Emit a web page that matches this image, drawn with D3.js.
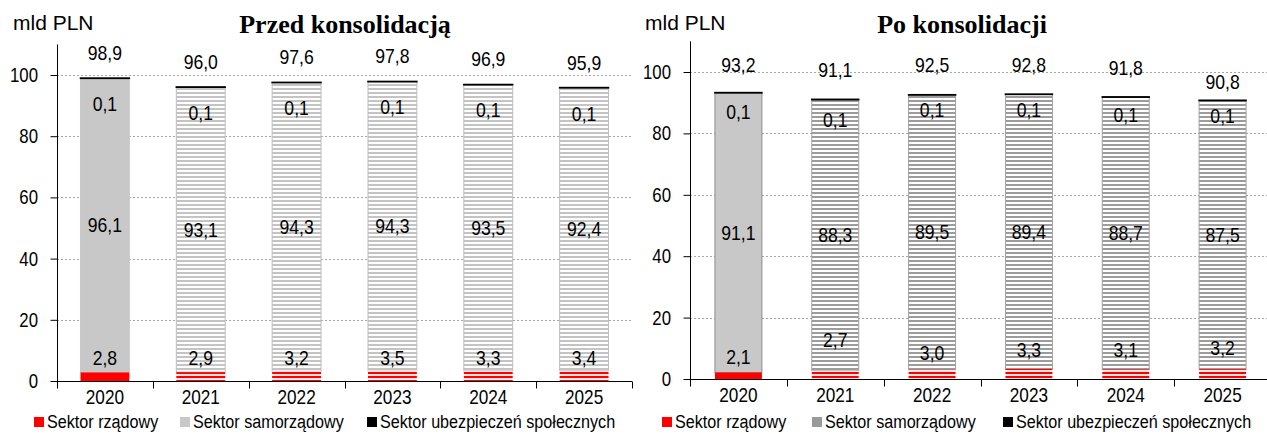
<!DOCTYPE html>
<html>
<head>
<meta charset="utf-8">
<script src="https://cdn.jsdelivr.net/npm/d3@7"></script>
<style>
  html, body { margin: 0; padding: 0; background: #fff; }
  svg { display: block; }
</style>
</head>
<body>
<svg id="chart" width="1267" height="434"></svg>
<script>
// ---- data (mld PLN) ----
const years = ["2020", "2021", "2022", "2023", "2024", "2025"];
const yTicks = [0, 20, 40, 60, 80, 100];

// before consolidation
const przedRzadowy      = [2.8, 2.9, 3.2, 3.5, 3.3, 3.4];
const przedSamorzadowy  = [96.1, 93.1, 94.3, 94.3, 93.5, 92.4];
const przedUbezpieczen  = [0.1, 0.1, 0.1, 0.1, 0.1, 0.1];
const przedRazem        = [98.9, 96.0, 97.6, 97.8, 96.9, 95.9];

// after consolidation
const poRzadowy         = [2.1, 2.7, 3.0, 3.3, 3.1, 3.2];
const poSamorzadowy     = [91.1, 88.3, 89.5, 89.4, 88.7, 87.5];
const poUbezpieczen     = [0.1, 0.1, 0.1, 0.1, 0.1, 0.1];
const poRazem           = [93.2, 91.1, 92.5, 92.8, 91.8, 90.8];

const legendNames = ["Sektor rządowy", "Sektor samorządowy", "Sektor ubezpieczeń społecznych"];

const fmt = v => d3.format(".1f")(v).replace(".", ",");

const SANS = "'Liberation Sans', Arial, sans-serif";
const SERIF = "'Liberation Serif', 'Times New Roman', serif";

const svg = d3.select("#chart");

// ---- fill patterns ----
const defs = svg.append("defs");
function stripes(id, line, gap) {
  const p = defs.append("pattern").attr("id", id)
    .attr("patternUnits", "userSpaceOnUse").attr("width", 8).attr("height", 4);
  p.append("rect").attr("width", 8).attr("height", 4).attr("fill", gap);
  p.append("rect").attr("width", 8).attr("height", 2).attr("fill", line);
}
stripes("stripeLight", "#c4c4c4", "#ffffff");
stripes("stripeDark", "#9c9c9c", "#ffffff");
stripes("stripeRed", "#ff0000", "#ffe6e6");

// narrow-looking sans text, drawn with a horizontal squeeze
function label(g, x, y, str, o = {}) {
  return g.append("g")
    .attr("transform", `translate(${x},${y}) scale(${o.sx ?? 0.88},1)`)
    .append("text")
    .attr("text-anchor", o.anchor || "middle")
    .attr("dy", o.dy ?? "0.35em")
    .attr("font-family", o.family || SANS)
    .attr("font-size", o.size || 20)
    .attr("font-weight", o.weight || "normal")
    .attr("fill", "#000")
    .text(str);
}

// ---- panel layout ----
const panels = [
  {
    title: "Przed konsolidacją", titleX: 345,
    x0: 57, x1: 632, yBase: 381, yTop100: 75, barFrac: 0.51,
    rz: przedRzadowy, sam: przedSamorzadowy, ub: przedUbezpieczen, total: przedRazem,
    stripe: "url(#stripeLight)", stripeEdge: "#bdbdbd", solidSam: "#c8c8c8", solidEdge: "#c8c8c8", legendSam: "#c8c8c8",
    totalOff: 25, totalNudge: [0, 0, 0, 0, 0, 0],
    topOff: 26, topNudge: [0, 0, 0, 0, 0, 0],
    botOff: 23, botNudge: [0, 0, 0, 0, 0, 0],
    unitX: 13, legendX: [34, 180, 367]
  },
  {
    title: "Po konsolidacji", titleX: 962,
    x0: 690, x1: 1271, yBase: 379, yTop100: 72, barFrac: 0.485,
    rz: poRzadowy, sam: poSamorzadowy, ub: poUbezpieczen, total: poRazem,
    stripe: "url(#stripeDark)", stripeEdge: "#a0a0a0", solidSam: "#c8c8c8", solidEdge: "#8c8c8c", legendSam: "#9a9a9a",
    totalOff: 29, totalNudge: [1, 0, -1, 0, 0, 11],
    topOff: 18, topNudge: [1, 3, -3, -2, 0, -2],
    botOff: 22, botNudge: [0, -17, -4, -7, -7, -9],
    unitX: 645, legendX: [662, 812, 1003]
  }
];

panels.forEach(p => {
  const g = svg.append("g");
  const per = (p.yBase - p.yTop100) / 100;
  const y = d3.scaleLinear().domain([0, 110]).range([p.yBase, p.yBase - 110 * per]);
  const x = d3.scaleBand().domain(years).range([p.x0, p.x1]).padding(0);
  const bw = x.bandwidth() * p.barFrac;
  const bx = d => x(d) + (x.bandwidth() - bw) / 2;
  const cx = d => x(d) + x.bandwidth() / 2;
  const xEnd = Math.min(p.x1, 1267);

  // dashed gridlines
  g.append("g").selectAll("line").data(yTicks.filter(t => t > 0)).join("line")
    .attr("x1", p.x0).attr("x2", xEnd)
    .attr("y1", d => Math.round(y(d)) + 0.5).attr("y2", d => Math.round(y(d)) + 0.5)
    .attr("stroke", "#a6a6a6").attr("stroke-width", 1).attr("stroke-dasharray", "2,2");

  // stacked bars
  const rows = years.map((yr, i) => ({
    yr, i, rz: p.rz[i], sam: p.sam[i], ub: p.ub[i], total: p.total[i]
  }));

  const bars = g.append("g");
  rows.forEach(r => {
    const solid = r.i === 0;
    const y1 = r.rz, y2 = r.rz + r.sam, y3 = r.rz + r.sam + r.ub;
    // Sektor samorządowy
    bars.append("rect")
      .attr("x", bx(r.yr)).attr("width", bw)
      .attr("y", y(y2)).attr("height", y(y1) - y(y2))
      .attr("fill", solid ? p.solidSam : p.stripe)
      .attr("stroke", solid ? p.solidEdge : p.stripeEdge)
      .attr("stroke-width", 1);
    // Sektor rządowy
    bars.append("rect")
      .attr("x", bx(r.yr)).attr("width", bw)
      .attr("y", y(y1)).attr("height", y(0) - y(y1))
      .attr("fill", solid ? "#ff0000" : "url(#stripeRed)");
    // Sektor ubezpieczeń społecznych
    bars.append("rect")
      .attr("x", bx(r.yr)).attr("width", bw)
      .attr("y", y(y3)).attr("height", y(y2) - y(y3))
      .attr("fill", "#000").attr("stroke", "#000").attr("stroke-width", 1.5);
  });

  // axes
  const yAxis = g.append("g").attr("transform", `translate(${p.x0 + 0.5},0)`)
    .call(d3.axisLeft(y).tickValues(yTicks).tickSize(7).tickFormat(""));
  yAxis.select(".domain").attr("d", `M0,${y(110)}V${p.yBase}`);
  yAxis.selectAll("line, path").attr("stroke", "#000");
  yTicks.forEach(t => label(g, p.x0 - 19, y(t), String(t), { anchor: "end", sx: 0.84 }));

  const xAxis = g.append("g").attr("transform", `translate(0,${p.yBase + 0.5})`);
  xAxis.append("line").attr("x1", p.x0).attr("x2", xEnd).attr("stroke", "#000");
  xAxis.selectAll(".tk").data(years.map(d => x(d)).concat([p.x1])).join("line")
    .attr("class", "tk")
    .attr("x1", d => Math.round(d) + 0.5).attr("x2", d => Math.round(d) + 0.5)
    .attr("y1", 0).attr("y2", 7).attr("stroke", "#000");
  years.forEach(d => label(g, cx(d), p.yBase + 16, d, { sx: 0.86 }));

  // value labels
  rows.forEach(r => {
    const top = y(r.rz + r.sam + r.ub);
    label(g, cx(r.yr), top - p.totalOff + p.totalNudge[r.i], fmt(r.total));
    label(g, cx(r.yr), top + p.topOff + p.topNudge[r.i], fmt(r.ub));
    label(g, cx(r.yr), y(r.rz + r.sam / 2), fmt(r.sam));
    label(g, cx(r.yr), p.yBase - p.botOff + p.botNudge[r.i], fmt(r.rz));
  });

  // title and unit
  label(g, p.titleX, 33, p.title, { family: SERIF, weight: "bold", size: 26, sx: 1, dy: 0 });
  label(g, p.unitX, 30, "mld PLN", { anchor: "start", size: 21, sx: 1, dy: 0 });

  // legend
  const colors = ["#ff0000", p.legendSam, "#000000"];
  legendNames.forEach((name, k) => {
    g.append("rect").attr("x", p.legendX[k]).attr("y", 417).attr("width", 10).attr("height", 10)
      .attr("fill", colors[k]);
    label(g, p.legendX[k] + 13, 428, name, { anchor: "start", size: 19, sx: 0.85, dy: 0 });
  });
});
</script>
</body>
</html>
